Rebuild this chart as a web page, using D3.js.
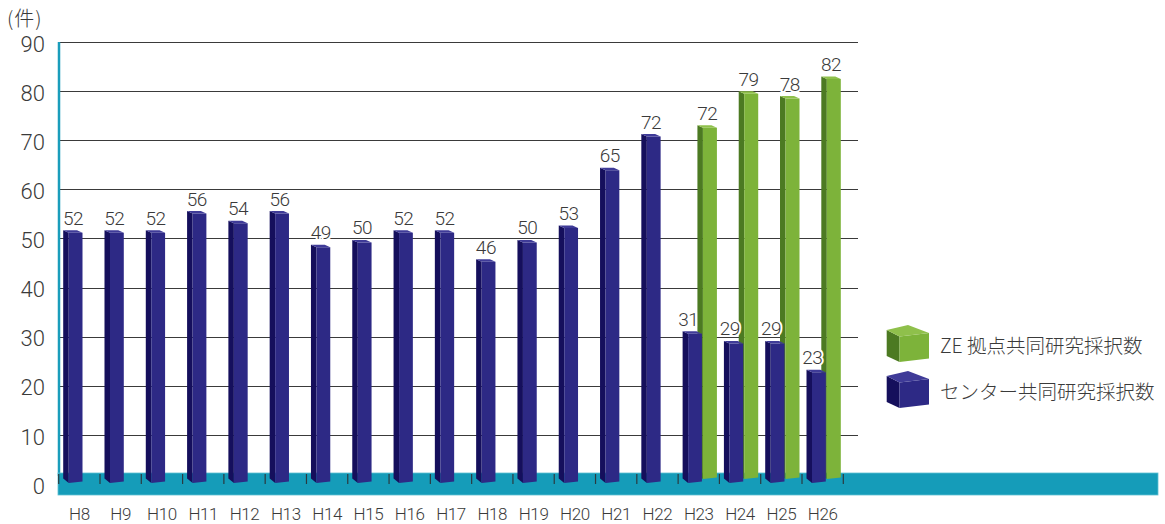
<!DOCTYPE html>
<html>
<head>
<meta charset="utf-8">
<script src="https://cdn.jsdelivr.net/npm/d3@7"></script>
<style>
  html, body { margin: 0; padding: 0; background: #fff; }
  svg { display: block; }
  .num { font-family: Roboto, "Liberation Sans", sans-serif; font-weight: 300; fill: #3a3a3a; }
  .jp  { font-family: "Noto Sans CJK JP", sans-serif; font-weight: 300; fill: #3a3a3a; }
</style>
</head>
<body>
<svg id="chart" width="1165" height="524"></svg>
<script>
// Fiscal years (Heisei)
const categories = ["H8","H9","H10","H11","H12","H13","H14","H15","H16","H17",
                    "H18","H19","H20","H21","H22","H23","H24","H25","H26"];
// センター共同研究採択数
const centerCounts = [52,52,52,56,54,56,49,50,52,52,46,50,53,65,72,31,29,29,23];
// ZE 拠点共同研究採択数 (from H23)
const zeCounts = [null,null,null,null,null,null,null,null,null,null,
                  null,null,null,null,null,72,79,78,82];
const yTicks = [0,10,20,30,40,50,60,70,80,90];
const unitLabel = "(件)";
const legendLabels = ["ZE 拠点共同研究採択数", "センター共同研究採択数"];

const svg = d3.select("#chart");

// Scales: back wall (gridlines), front row (center bars), back row (ZE bars)
const x = d3.scaleBand().domain(categories).range([58.7, 843.3]).padding(0);
const yWall = d3.scaleLinear().domain([0, 90]).range([484, 42]);
const yFront = d3.scaleLinear().domain([0, 90]).range([483, 50]);
const yBack = d3.scaleLinear().domain([0, 90]).range([479, 40]);

const depth = { dx: -5.5, dy: -2.5 };

const colors = {
  blue:  { front: "#2d2985", side: "#150f5c", top: "#3f3b98" },
  green: { front: "#7db33a", side: "#4c7a22", top: "#8fc04b" }
};

// Gridlines on the back wall
svg.append("g").selectAll("line").data(yTicks.filter(d => d > 0)).join("line")
  .attr("x1", 60).attr("x2", 858)
  .attr("y1", d => Math.round(yWall(d)) + 0.5).attr("y2", d => Math.round(yWall(d)) + 0.5)
  .attr("stroke", "#3a3a3a").attr("stroke-width", 1);

// Vertical axis line
svg.append("line").attr("x1", 59).attr("x2", 59)
  .attr("y1", yWall(90)).attr("y2", 476)
  .attr("stroke", "#1a9dbb").attr("stroke-width", 2.5);

// Floor band
svg.append("rect").attr("x", 58).attr("y", 473).attr("width", 1100).attr("height", 22)
  .attr("fill", "#159cb9").attr("stroke", "#5fc0d3").attr("stroke-width", 0.8);

// Floor tick marks at category boundaries
const bounds = categories.map(c => x(c)).concat([x.range()[1]]);
svg.append("g").selectAll("line").data(bounds).join("line")
  .attr("x1", d => d).attr("x2", d => d).attr("y1", 474).attr("y2", 484)
  .attr("stroke", "#2a3a40").attr("stroke-width", 1.2);

// Draws one pseudo-3D bar: front face, left side face, top face
function bar3d(g, x0, w, yTop, yBottom, col) {
  const { dx, dy } = depth;
  g.append("polygon")
    .attr("points", [[x0, yTop], [x0 + dx, yTop + dy], [x0 + dx, yBottom + dy - 2], [x0, yBottom]].join(" "))
    .attr("fill", col.side);
  g.append("polygon")
    .attr("points", [[x0, yTop], [x0 + w, yTop], [x0 + w, yBottom - 1.5], [x0, yBottom]].join(" "))
    .attr("fill", col.front);
  g.append("polygon")
    .attr("points", [[x0, yTop], [x0 + w, yTop], [x0 + w + dx, yTop + dy], [x0 + dx, yTop + dy]].join(" "))
    .attr("fill", col.top);
}

const bars = svg.append("g");
const labels = svg.append("g");

function valueLabel(xc, y, v) {
  labels.append("text").attr("class", "num")
    .attr("x", xc).attr("y", y)
    .attr("text-anchor", "middle").attr("font-size", 19).attr("letter-spacing", -0.5)
    .attr("stroke", "#fff").attr("stroke-width", 4).attr("stroke-linejoin", "round")
    .attr("paint-order", "stroke")
    .text(v);
}

// Back row (ZE) first so the front row overlaps it
categories.forEach((c, i) => {
  const v = zeCounts[i];
  if (v == null) return;
  const x0 = x(c) + 24.8;
  bar3d(bars.append("g"), x0, 14, yBack(v), yBack(0), colors.green);
  valueLabel(x0 + 7 + depth.dx / 2, yBack(v) - 8, v);
});

categories.forEach((c, i) => {
  const v = centerCounts[i];
  const x0 = x(c) + 10;
  bar3d(bars.append("g"), x0, 13.8, yFront(v), yFront(0), colors.blue);
  const shift = zeCounts[i] != null ? -4 : 0;
  valueLabel(x0 + 7 + depth.dx / 2 + shift, yFront(v) - 8, v);
});
labels.raise();

// Y tick labels
svg.append("g").selectAll("text").data(yTicks).join("text")
  .attr("class", "num")
  .attr("x", 45).attr("y", d => yWall(d) + 2)
  .attr("dy", "0.35em").attr("text-anchor", "end").attr("font-size", 22)
  .text(d => d);

// Unit label
svg.append("text").attr("class", "jp").attr("x", 7).attr("y", 26)
  .attr("font-size", 20).attr("letter-spacing", 1).text(unitLabel);

// X category labels
svg.append("g").selectAll("text").data(categories).join("text")
  .attr("class", "num")
  .attr("x", d => x(d) + x.bandwidth() / 2).attr("y", 520)
  .attr("text-anchor", "middle").attr("font-size", 17).attr("letter-spacing", -0.4)
  .text(d => d);

// Legend with cube icons
const legend = svg.append("g");
[colors.green, colors.blue].forEach((col, i) => {
  const g = legend.append("g").attr("transform", `translate(0,${i * 46})`);
  g.append("polygon").attr("points", "886.7,330 899.5,336.5 899.5,362 886.7,356").attr("fill", col.side);
  g.append("polygon").attr("points", "899.5,336.5 929,333 929,358.5 899.5,362").attr("fill", col.front);
  g.append("polygon").attr("points", "886.7,330 908,325 929,333 899.5,336.5").attr("fill", col.top);
  g.append("text").attr("class", "jp")
    .attr("x", 940).attr("y", 346).attr("dy", "0.36em")
    .attr("font-size", 19.5).text(legendLabels[i]);
});
</script>
</body>
</html>
